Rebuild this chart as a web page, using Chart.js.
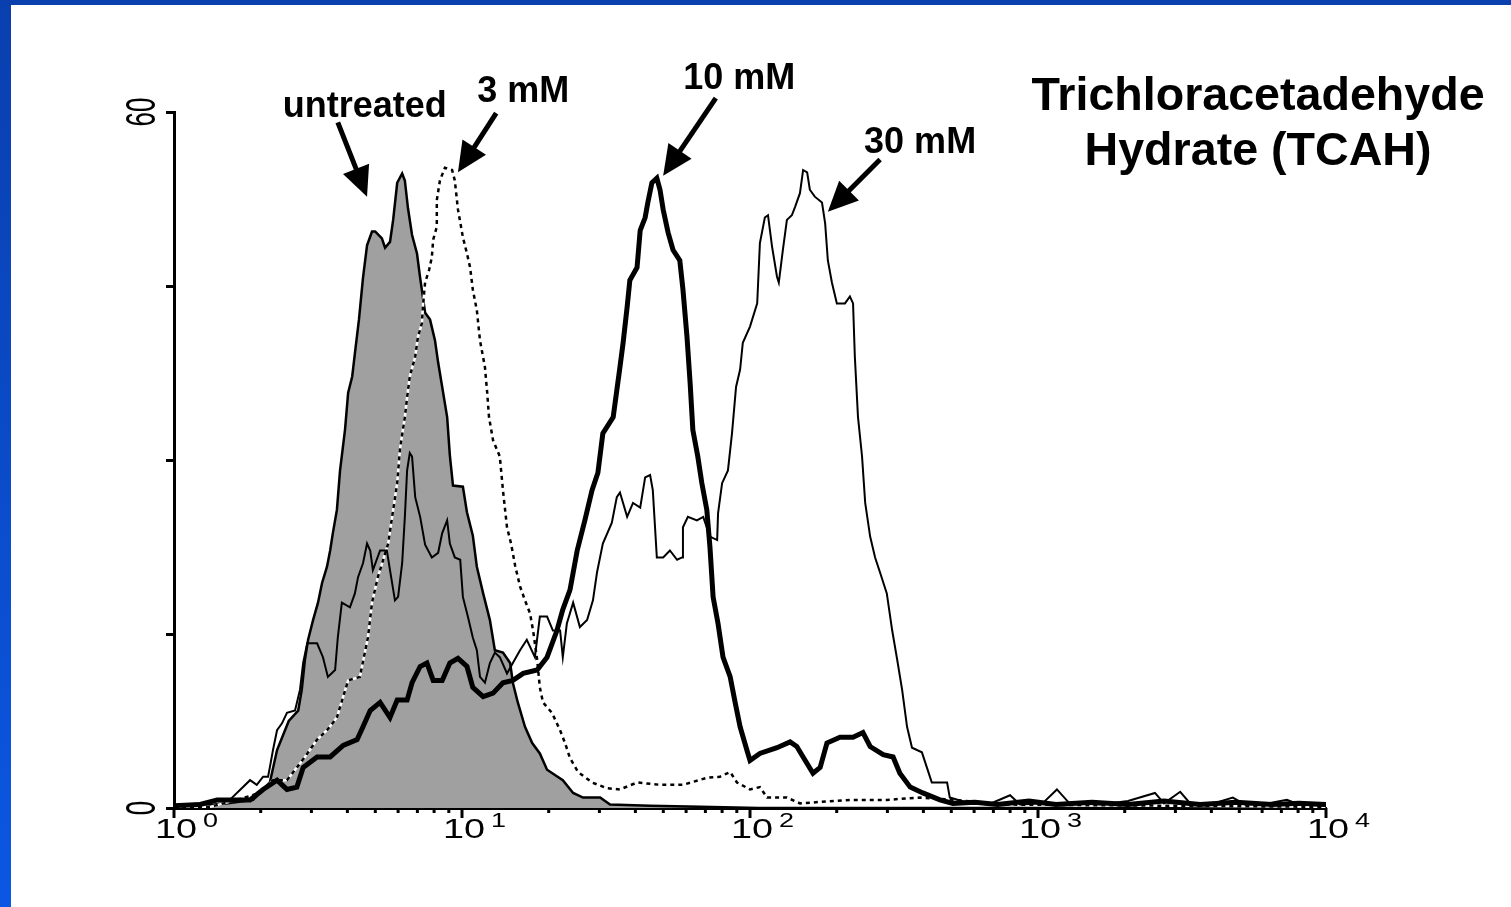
<!DOCTYPE html>
<html>
<head>
<meta charset="utf-8">
<title>TCAH histogram</title>
<script src="https://cdn.jsdelivr.net/npm/chart.js@4.4.1/dist/chart.umd.min.js"></script>
<style>
  html, body { margin:0; padding:0; background:#fff; }
  body { width:1511px; height:907px; position:relative; overflow:hidden; }
  #wrap { position:absolute; left:0; top:0; width:1511px; height:907px; }
  .frame-top  { position:absolute; left:0; top:0; width:1511px; height:5px; background:#0a3fae; }
  .frame-left { position:absolute; left:0; top:0; width:11px; height:907px; background:linear-gradient(#0a3fae, #0b57e3); }
</style>
</head>
<body>
<div id="wrap"><canvas id="c-hist"></canvas></div>
<div class="frame-top"></div>
<div class="frame-left"></div>
<script>
// FL channel axis: 256 channels spread over 4 log decades (10^0 .. 10^4)
const CH_PER_DECADE = 64;
const DECADES  = [0, 1, 2, 3, 4];
const Y_TICKS  = [0, 15, 30, 45, 60];
const Y_LABELS = [0, 60];

// [channel, events] pairs
const untreated = [
  [0,0],[6,0.2],[12,0.4],[17.6,0.7],[21.3,2.2],[22.9,5],[25.5,7.5],[27.6,8.4],[28.4,10.2],[29.1,12.8],
  [29.8,14.5],[30.9,16.2],[32,17.7],[32.9,19.4],[34,20.8],[34.7,22.2],[35.3,23.7],[36.2,25.7],[36.9,29.1],
  [38,32.6],[38.7,35.8],[39.6,37.2],[40.2,39.2],[41.1,42.1],[42,45.7],[42.9,48.5],[44,49.7],[44.7,49.7],
  [46.2,49.1],[46.9,48.3],[48,48.8],[48.7,50.7],[49.6,53.9],[50.7,54.7],[51.3,54.1],[52,51.7],[52.9,49.4],
  [54,47.8],[54.7,45.7],[55.8,42.7],[56.9,42.1],[58,40.3],[58.7,38.4],[59.6,36.3],[60.7,33.7],[61.3,30.4],
  [62,27.8],[64.2,27.7],[65.1,25.5],[66.4,23.5],[67.3,20.8],[68.7,18.5],[70.2,16.2],[71.3,13.6],[73.1,13.4],
  [74.7,12.5],[75.3,10.8],[76.4,9.1],[78,7],[79.6,5.6],[81.3,4.7],[82.9,3.3],[86.4,2.4],[88.7,1.3],
  [90.9,0.9],[94.7,0.9],[96.9,0.3],[105.8,0.2],[117,0.1],[130,0],[256,0]
];

const dose3mM = [
  [0,0],[8,0.1],[14,0.7],[19.1,1.3],[22,2.4],[25.1,2.4],[27.3,3.5],[29.1,4.4],[31.8,5.9],[34,6.7],
  [36.2,7.8],[37.6,9.6],[38.7,11],[41.3,11.3],[43.1,14.7],[44,17.7],[45.3,19.9],[47.6,22.8],[48.7,25.7],
  [49.6,28],[50.2,30.9],[51.3,33.7],[51.8,35.4],[52.4,37.2],[53.6,38.9],[54.2,40.6],[55.1,41.8],[55.3,43.2],
  [55.8,45.3],[56.7,46.4],[57.3,47.5],[57.6,49],[58.4,50.1],[58.4,52.4],[59.1,54.1],[60.2,55.2],[61.8,55],
  [62.4,54.1],[63.1,51.6],[64.2,49.2],[65.1,47.8],[65.8,46.6],[66.4,44.7],[67.3,42.9],[68,40.3],[69.1,38],
  [69.6,35.8],[70,33.7],[70.9,31.7],[72.4,30.3],[73.1,27.4],[74,24.2],[74.9,22.8],[75.8,20.9],[76.9,19.1],
  [78,17.9],[79.1,16.8],[79.8,15.3],[80.7,12.8],[81.3,10.4],[82,9.1],[84,8.2],[85.8,6.7],[86.9,5.6],
  [88,4.3],[89.8,3.1],[92.9,2.2],[96.2,1.7],[99.1,1.6],[102.9,2.2],[108,2],[113.1,2],[118.4,2.6],
  [121.3,2.7],[123.6,3.1],[125.1,2.2],[128,1.6],[130.2,1.8],[131.8,0.9],[136.2,0.9],[139.1,0.4],[150.2,0.7],
  [158.4,0.7],[165.8,0.9],[173.6,0.7],[183.6,0.3],[256,0.1]
];

const dose10mM = [
  [0,0.2],[5.8,0.3],[9.6,0.7],[16.9,0.7],[19.8,1.6],[22.9,2.4],[25.1,1.6],[27.3,1.8],[28.7,3.5],[31.8,4.4],
  [34.7,4.4],[37.6,5.4],[40.7,5.9],[42,7],[43.6,8.4],[45.8,9.1],[48,7.8],[49.6,9.3],[51.8,9.3],[52.9,10.8],
  [54.7,12.2],[56.2,12.5],[57.6,11],[59.6,11],[61.3,12.5],[63.1,12.9],[65.1,12.2],[66.4,10.4],[68.7,9.6],
  [70.9,9.9],[73.1,10.8],[75.3,11],[77.6,11.6],[80.7,11.9],[82.9,13],[85.1,15.3],[86.4,17.1],[88,18.8],
  [89.6,22.2],[91.3,24.8],[92.9,27.4],[94.2,28.9],[95.3,32.3],[97.6,33.7],[98.4,36],[99.1,38],[99.8,40.1],
  [100.7,43.2],[101.3,45.5],[102.9,46.6],[103.6,49.8],[104.7,50.9],[105.3,52.2],[106.2,53.9],[107.3,54.3],
  [108,53.3],[108.7,51.6],[109.8,49.6],[110.9,48.1],[112.4,47.2],[113.1,44.7],[114,40.6],[114.7,36.6],
  [115.3,32.6],[116.4,30.3],[117.3,28],[118.4,25.7],[119.1,22.5],[119.8,18.2],[120.9,15.9],[122,13],
  [123.6,11.3],[124.7,9.1],[125.8,7],[127.3,5],[128,4.1],[130.2,4.7],[134,5.2],[136.9,5.7],[138.4,5.3],
  [139.8,4.4],[142,3],[143.6,3.5],[145.1,5.6],[148,6.1],[150.9,6.1],[153.1,6.5],[154.7,5.3],[157.6,4.6],
  [159.8,4.4],[161.3,3],[163.6,1.8],[166.4,1.3],[170.2,0.7],[173.1,0.4],[178,0.5],[183,0.3],[190,0.6],
  [196,0.3],[204,0.5],[212,0.3],[220,0.6],[228,0.3],[236,0.5],[244,0.3],[250,0.4],[256,0.3]
];

const dose30mM = [
  [0,0.2],[5.8,0.4],[12.4,0.7],[16.9,2.4],[18.4,2],[19.8,2.7],[20.9,2.7],[21.3,3.5],[22,5],[22.9,6.7],
  [24,7.3],[25.1,8.2],[26.9,8.4],[28,10.2],[28.7,12.5],[29.6,14.2],[31.8,14.2],[33.1,13],[34.2,11.3],
  [35.8,11.9],[36.4,14.7],[37.3,17.7],[39.1,17.3],[40.2,18.5],[40.9,19.9],[42,21.1],[42.9,22.8],[43.6,22.2],
  [44.2,20.5],[45.8,22.2],[47.3,22.2],[48,20.5],[49.1,17.9],[49.8,18.2],[50.7,21.1],[51.3,25.1],[51.8,29.1],
  [52.4,30.6],[52.9,30.3],[53.6,26.8],[54.7,25.1],[55.8,22.7],[57.3,21.6],[58.7,22],[59.6,23.7],[60.7,24.8],
  [61.3,22.8],[62.4,21.6],[63.6,21.4],[64.2,18.2],[65.3,16.5],[66.4,14.7],[67.3,13.6],[68,11.3],[69.1,10.8],
  [70.2,12.5],[71.3,13.4],[72.4,13],[74,11.6],[75.3,12.5],[76.9,13.6],[78.4,14.5],[80.2,13],[81.3,16.5],
  [82.9,16.5],[84.2,15.3],[85.8,15.3],[86.4,13],[87.3,15.9],[88.7,17.7],[90.2,15.6],[91.8,16.2],[93.1,17.9],
  [94,20.3],[95.3,22.8],[97.3,24.6],[98.4,26.8],[99.1,27.2],[100.7,25.1],[102,26.3],[103.6,25.9],[104.7,28.5],
  [105.8,28.7],[106.4,27.4],[107.3,21.6],[108.7,21.6],[110.2,22.2],[111.8,21.4],[112.9,21.6],[113.1,24.2],
  [114.2,25.1],[116.2,24.8],[117.6,25.1],[119.1,23.4],[120.7,23.1],[120.9,25.4],[121.8,28],[123.1,29.1],
  [124,32.3],[124.9,36.3],[125.8,37.8],[126.4,40.1],[128,41.5],[129.6,43.5],[130.2,48.7],[131.3,50.9],
  [132,51.1],[132.9,48.4],[134,45.8],[134.4,45.3],[135.3,48.1],[136.2,50.7],[137.3,51.1],[138,51.8],
  [139.1,53],[139.8,55],[140.7,54.8],[141.3,53.3],[142.4,52.7],[144,52.2],[144.7,50.4],[145.3,47.2],
  [146.2,45.3],[147.3,43.5],[149.1,43.5],[150.2,44.1],[150.9,43.5],[151.3,38.9],[152,33.7],[152.9,30.3],
  [153.6,26.3],[154.7,23.4],[155.8,21.6],[156.9,20.3],[158.4,18.5],[159.6,15.3],[160.7,12.8],[161.8,10.2],
  [162.9,7],[164,5.2],[166.2,4.8],[167.3,3.5],[168.4,2.2],[170.7,2.2],[171.8,2.2],[172.4,0.9],[176,0.5],
  [181,0.3],[185.8,1.1],[188,0.3],[193,0.4],[196.2,1.6],[199,0.4],[206,0.3],[212,0.6],[218,1.3],[220,0.4],
  [223.6,1.4],[226,0.3],[231,0.4],[235.3,0.9],[238,0.3],[243,0.4],[247.3,0.7],[250,0.3],[256,0.2]
];

// Callouts: label baseline and arrow tail/tip, all in [channel, events]
const CALLOUTS = [
  { text:'untreated', label:[42.4, 59.6],  from:[36.4, 59.1],  to:[42.9, 52.7] },
  { text:'3 mM',      label:[77.6, 60.9],  from:[71.6, 59.9],  to:[63.1, 54.8] },
  { text:'10 mM',     label:[125.6, 62.0], from:[120.4, 61.2], to:[108.7, 54.5] },
  { text:'30 mM',     label:[165.8, 56.5], from:[156.9, 55.9], to:[145.3, 51.4] },
];
const TITLE_LINES = ['Trichloracetadehyde', 'Hydrate (TCAH)'];

const toXY = arr => arr.map(([x, y]) => ({ x, y }));

function line(ctx, x1, y1, x2, y2) {
  ctx.beginPath(); ctx.moveTo(x1, y1); ctx.lineTo(x2, y2); ctx.stroke();
}

function arrow(ctx, x1, y1, x2, y2) {
  const ang = Math.atan2(y2 - y1, x2 - x1);
  const len = 30, half = 14;
  const bx = x2 - len * Math.cos(ang), by = y2 - len * Math.sin(ang);
  ctx.lineWidth = 5;
  line(ctx, x1, y1, bx + 2 * Math.cos(ang), by + 2 * Math.sin(ang));
  ctx.beginPath();
  ctx.moveTo(x2, y2);
  ctx.lineTo(bx + half * Math.sin(ang), by - half * Math.cos(ang));
  ctx.lineTo(bx - half * Math.sin(ang), by + half * Math.cos(ang));
  ctx.closePath();
  ctx.fill();
}

// wide, thin digits like the cytometer's axis font
function wideText(ctx, str, x, y, size, sx, align) {
  ctx.save();
  ctx.translate(x, y);
  ctx.scale(sx, 1);
  ctx.font = `${size}px "Liberation Sans", Arial, sans-serif`;
  ctx.textAlign = align;
  ctx.textBaseline = 'alphabetic';
  ctx.fillText(str, 0, 0);
  ctx.restore();
}

const decor = {
  id: 'decor',
  afterDraw(chart) {
    const { ctx, scales: { x, y } } = chart;
    const X = v => x.getPixelForValue(v), Y = v => y.getPixelForValue(v);
    ctx.save();
    ctx.fillStyle = '#000';
    ctx.strokeStyle = '#000';
    ctx.lineCap = 'butt';

    // log decade ticks + minor ticks below the axis
    const base = Y(0);
    ctx.lineWidth = 3;
    DECADES.forEach(d => {
      const px = X(d * CH_PER_DECADE);
      line(ctx, px, base, px, base + 10);
      if (d < DECADES.length - 1) {
        for (let k = 2; k <= 9; k++) {
          const m = X((d + Math.log10(k)) * CH_PER_DECADE);
          line(ctx, m, base, m, base + 5);
        }
      }
      wideText(ctx, '10', px + 2, base + 30, 28, 1.35, 'center');
      wideText(ctx, String(d), px + 29, base + 19, 20, 1.35, 'left');
    });

    // rotated y labels
    Y_LABELS.forEach(v => {
      ctx.save();
      ctx.translate(x.left - 34, Y(v));
      ctx.scale(1.6, 1);
      ctx.rotate(-Math.PI / 2);
      ctx.font = '26px "Liberation Sans", Arial, sans-serif';
      ctx.textAlign = 'center';
      ctx.textBaseline = 'alphabetic';
      ctx.fillText(String(v), 0, 26 * 0.716 / 2);
      ctx.restore();
    });

    // callouts
    ctx.font = 'bold 36px "Liberation Sans", Arial, sans-serif';
    ctx.textAlign = 'center';
    ctx.textBaseline = 'alphabetic';
    CALLOUTS.forEach(c => {
      ctx.fillText(c.text, X(c.label[0]), Y(c.label[1]));
      arrow(ctx, X(c.from[0]), Y(c.from[1]), X(c.to[0]), Y(c.to[1]));
    });

    // compound name, top right
    ctx.font = 'bold 46.6px "Liberation Sans", Arial, sans-serif';
    ctx.fillText(TITLE_LINES[0], 1258, 110);
    ctx.fillText(TITLE_LINES[1], 1258, 165);
    ctx.restore();
  }
};

new Chart(document.getElementById('c-hist'), {
  type: 'line',
  data: {
    datasets: [
      { label:'10 mM', data:toXY(dose10mM), borderColor:'#000', borderWidth:5, fill:false },
      { label:'30 mM', data:toXY(dose30mM), borderColor:'#000', borderWidth:2, fill:false },
      { label:'3 mM',  data:toXY(dose3mM),  borderColor:'#000', borderWidth:2.5, borderDash:[4, 4], fill:false },
      { label:'3 mM underlay', data:toXY(dose3mM), borderColor:'#fff', borderWidth:2.5, fill:false },
      { label:'untreated', data:toXY(untreated), borderColor:'#000', borderWidth:2.5,
        backgroundColor:'#a0a0a0', fill:'origin' },
    ]
  },
  options: {
    responsive: true, maintainAspectRatio: false, animation: false,
    layout: { padding: { top:112, right:185, left:0, bottom:0 } },
    plugins: { legend:{ display:false }, tooltip:{ enabled:false } },
    elements: { point:{ radius:0, hoverRadius:0 }, line:{ tension:0, borderJoinStyle:'miter' } },
    scales: {
      x: {
        type:'linear', min:0, max:DECADES[DECADES.length - 1] * CH_PER_DECADE,
        afterFit: s => { s.height = 99; },
        grid: { display:false },
        border: { display:true, color:'#000', width:3 },
        ticks: { display:false }
      },
      y: {
        min:0, max:60,
        afterBuildTicks: s => { s.ticks = Y_TICKS.map(v => ({ value:v })); },
        afterFit: s => { s.width = 174; },
        grid: { drawOnChartArea:false, drawTicks:true, tickLength:8, color:'#000', lineWidth:3 },
        border: { display:true, color:'#000', width:3 },
        ticks: { display:false }
      }
    }
  },
  plugins: [decor]
});
</script>
</body>
</html>
